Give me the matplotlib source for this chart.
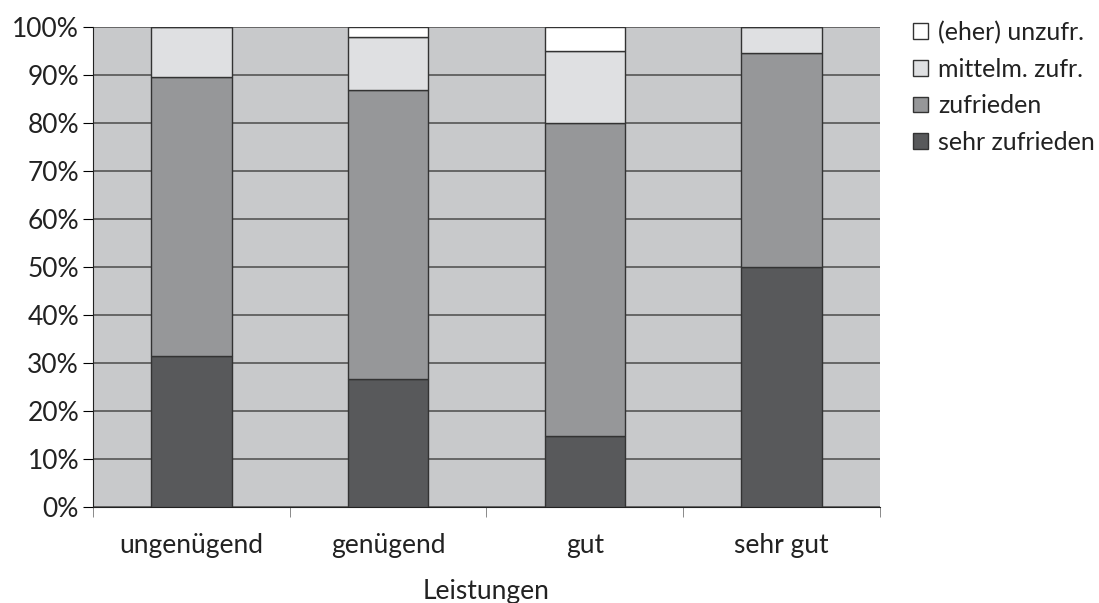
import matplotlib.pyplot as plt
import numpy as np
from matplotlib.ticker import PercentFormatter

plt.rcParams['font.family'] = ['Lato', 'DejaVu Sans']

kategorien = ["ungenügend", "genügend", "gut", "sehr gut"]
sehr_zufrieden = [31.3, 26.5, 14.7, 50.0]
zufrieden = [58.2, 60.2, 65.3, 44.4]
mittelm_zufr = [10.5, 11.1, 15.0, 5.6]
eher_unzufr = [0.0, 2.2, 5.0, 0.0]

serien = [
    ("sehr zufrieden", sehr_zufrieden, "#58595b"),
    ("zufrieden", zufrieden, "#969799"),
    ("mittelm. zufr.", mittelm_zufr, "#dfe0e2"),
    ("(eher) unzufr.", eher_unzufr, "#ffffff"),
]

fig = plt.figure(figsize=(10.99, 6.03), dpi=100)
ax = fig.add_axes([0.0846, 0.16, 0.7161, 0.796])
ax.set_facecolor("#c8c9cb")

x = np.arange(len(kategorien))
unten = np.zeros(len(kategorien))
handles = []
for name, werte, farbe in serien:
    b = ax.bar(x, werte, 0.41, bottom=unten, color=farbe, edgecolor="#333333",
               linewidth=1.0, zorder=3, label=name)
    handles.append(b)
    unten += np.array(werte)

ax.set_xlim(-0.5, 3.5)
ax.set_ylim(0, 100)
ax.set_yticks(np.arange(0, 101, 10))
ax.yaxis.set_major_formatter(PercentFormatter(decimals=0))
ax.grid(axis="y", color="#5e5e5e", linewidth=1.3, zorder=1)
ax.set_axisbelow(True)

ax.set_xticks(x)
ax.set_xticklabels(kategorien, fontsize=19, color="#222222")
ax.set_xticks(np.arange(-0.5, 4.0, 1.0), minor=True)
ax.tick_params(axis="x", which="major", length=0, pad=19)
ax.tick_params(axis="x", which="minor", length=7, color="#777777", direction="out")
ax.tick_params(axis="y", labelsize=19, labelcolor="#222222", length=7,
               direction="out", pad=3)

for s in ["top", "right"]:
    ax.spines[s].set_visible(False)
ax.spines["left"].set_color("#222222")
ax.spines["bottom"].set_color("#222222")

ax.set_xlabel("Leistungen", fontsize=19, color="#222222", labelpad=15)

fig.legend(handles[::-1], [s[0] for s in serien][::-1], loc="upper left",
           bbox_to_anchor=(0.831, 0.966), frameon=False, fontsize=18,
           handlelength=0.6, handleheight=0.6, handletextpad=0.4,
           labelspacing=0.55, borderaxespad=0, borderpad=0,
           labelcolor="#222222")

fig.savefig("out.png", dpi=100)
